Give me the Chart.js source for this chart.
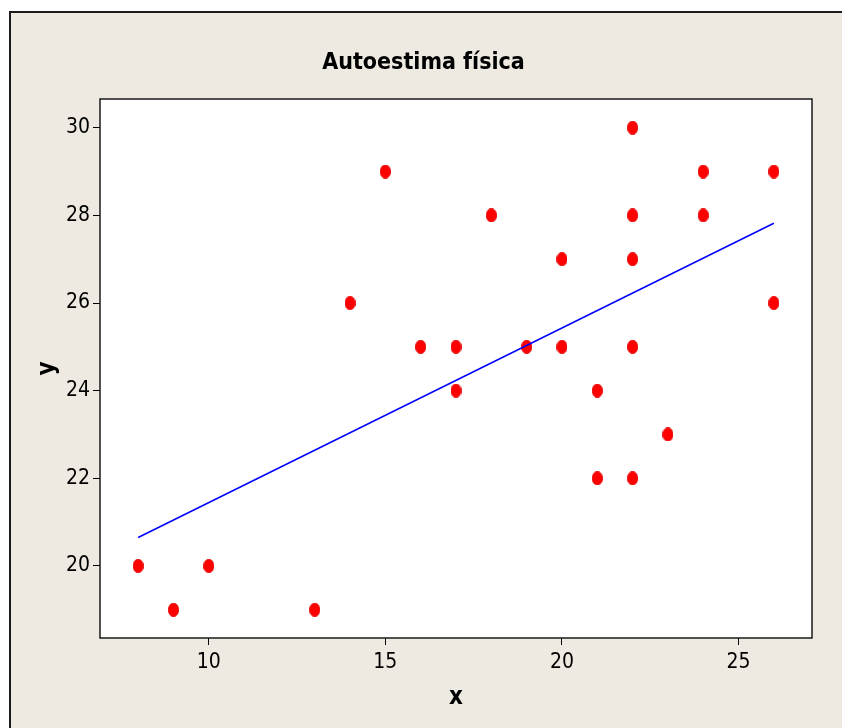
<!DOCTYPE html>
<html>
<head>
<meta charset="utf-8">
<title>Autoestima física</title>
<script src="https://cdn.jsdelivr.net/npm/chart.js@4/dist/chart.umd.min.js"></script>
<style>
    html, body { margin: 0; padding: 0; background: #ffffff; }
    #frame {
        position: absolute;
        left: 9px;
        top: 11px;
        width: 831px;
        height: 715px;
        border-left: 2px solid #1c1c1c;
        border-top: 2px solid #1c1c1c;
        background: #eeeae1;
    }
    #chartWrap { position: relative; width: 831px; height: 715px; }
</style>
</head>
<body>
<div id="frame">
    <div id="chartWrap"><canvas id="scatterChart"></canvas></div>
</div>
<script>
// data
const xValues = [8, 9, 10, 13, 14, 15, 16, 17, 17, 18, 19, 20, 20, 21, 21, 22, 22, 22, 22, 22, 23, 24, 24, 26, 26];
const yValues = [20, 19, 20, 19, 26, 29, 25, 25, 24, 28, 25, 27, 25, 24, 22, 30, 28, 27, 25, 22, 23, 29, 28, 29, 26];

// fitted line end points
const fitX = [8, 26];
const fitY = [20.65, 27.82];

const xTicks = [10, 15, 20, 25];
const yTicks = [20, 22, 24, 26, 28, 30];

const fontFamily = "'Liberation Sans Narrow', 'DejaVu Sans Condensed', 'Liberation Sans', sans-serif";

// slightly tall red ellipse, like the Minitab symbol
function makeDot() {
    const c = document.createElement('canvas');
    c.width = 11;
    c.height = 14;
    const g = c.getContext('2d');
    g.fillStyle = '#ff0000';
    g.beginPath();
    g.ellipse(5.5, 7, 5.2, 6.7, 0, 0, Math.PI * 2);
    g.fill();
    g.strokeStyle = '#e00000';
    g.lineWidth = 0.8;
    g.stroke();
    return c;
}

const plotBox = {
    id: 'plotBox',
    beforeDatasetsDraw(chart) {
        const { ctx, chartArea: a } = chart;
        ctx.save();
        ctx.fillStyle = '#ffffff';
        ctx.fillRect(a.left, a.top, a.right - a.left, a.bottom - a.top);
        ctx.restore();
    },
    afterDraw(chart) {
        const { ctx, chartArea: a } = chart;
        ctx.save();
        ctx.strokeStyle = '#1a1a1a';
        ctx.lineWidth = 1.5;
        ctx.strokeRect(a.left, a.top, a.right - a.left, a.bottom - a.top);
        ctx.restore();
    }
};

window.onload = function () {
    const ctx = document.getElementById('scatterChart').getContext('2d');
    const dot = makeDot();

    new Chart(ctx, {
        type: 'scatter',
        data: {
            datasets: [{
                label: 'data',
                data: xValues.map((x, i) => ({ x: x, y: yValues[i] })),
                pointStyle: dot,
                pointRadius: 6,
                order: 2
            }, {
                label: 'fit',
                type: 'line',
                data: fitX.map((x, i) => ({ x: x, y: fitY[i] })),
                borderColor: '#0000ff',
                borderWidth: 1.5,
                pointRadius: 0,
                fill: false,
                order: 1
            }]
        },
        options: {
            responsive: true,
            maintainAspectRatio: false,
            animation: false,
            layout: { padding: { left: 0, right: 6, top: 0, bottom: 0 } },
            plugins: {
                legend: { display: false },
                tooltip: { enabled: false },
                title: {
                    display: true,
                    text: 'Autoestima física',
                    color: '#000000',
                    font: { family: fontFamily, size: 23, weight: 'bold', lineHeight: 1.2 },
                    padding: { top: 36.2, bottom: 22.2 }
                }
            },
            scales: {
                x: {
                    type: 'linear',
                    min: 6.92,
                    max: 27.08,
                    afterBuildTicks: s => { s.ticks = xTicks.map(v => ({ value: v })); },
                    afterFit: s => { s.height = 90; },
                    grid: { drawOnChartArea: false, drawTicks: true, tickLength: 7, color: '#000000' },
                    border: { display: false },
                    ticks: {
                        color: '#000000',
                        padding: 5,
                        maxRotation: 0,
                        font: { family: fontFamily, size: 21 }
                    },
                    title: {
                        display: true,
                        text: 'x',
                        color: '#000000',
                        font: { family: fontFamily, size: 24, weight: 'bold', lineHeight: 1.2 },
                        padding: { top: 0, bottom: 16 }
                    }
                },
                y: {
                    type: 'linear',
                    min: 18.356,
                    max: 30.655,
                    afterBuildTicks: s => { s.ticks = yTicks.map(v => ({ value: v })); },
                    afterFit: s => { s.width = 89; },
                    grid: { drawOnChartArea: false, drawTicks: true, tickLength: 7, color: '#000000' },
                    border: { display: false },
                    ticks: {
                        color: '#000000',
                        padding: 3,
                        font: { family: fontFamily, size: 21 }
                    },
                    title: {
                        display: true,
                        text: 'y',
                        color: '#000000',
                        font: { family: fontFamily, size: 24, weight: 'bold', lineHeight: 1.2 },
                        padding: { top: 22, bottom: 0 }
                    }
                },
                // empty right-hand spacer so the plot ends where the reference does
                yRight: {
                    type: 'linear',
                    position: 'right',
                    display: true,
                    afterFit: s => { s.width = 24; },
                    grid: { display: false },
                    border: { display: false },
                    ticks: { display: false }
                }
            }
        },
        plugins: [plotBox]
    });
};
</script>
</body>
</html>
